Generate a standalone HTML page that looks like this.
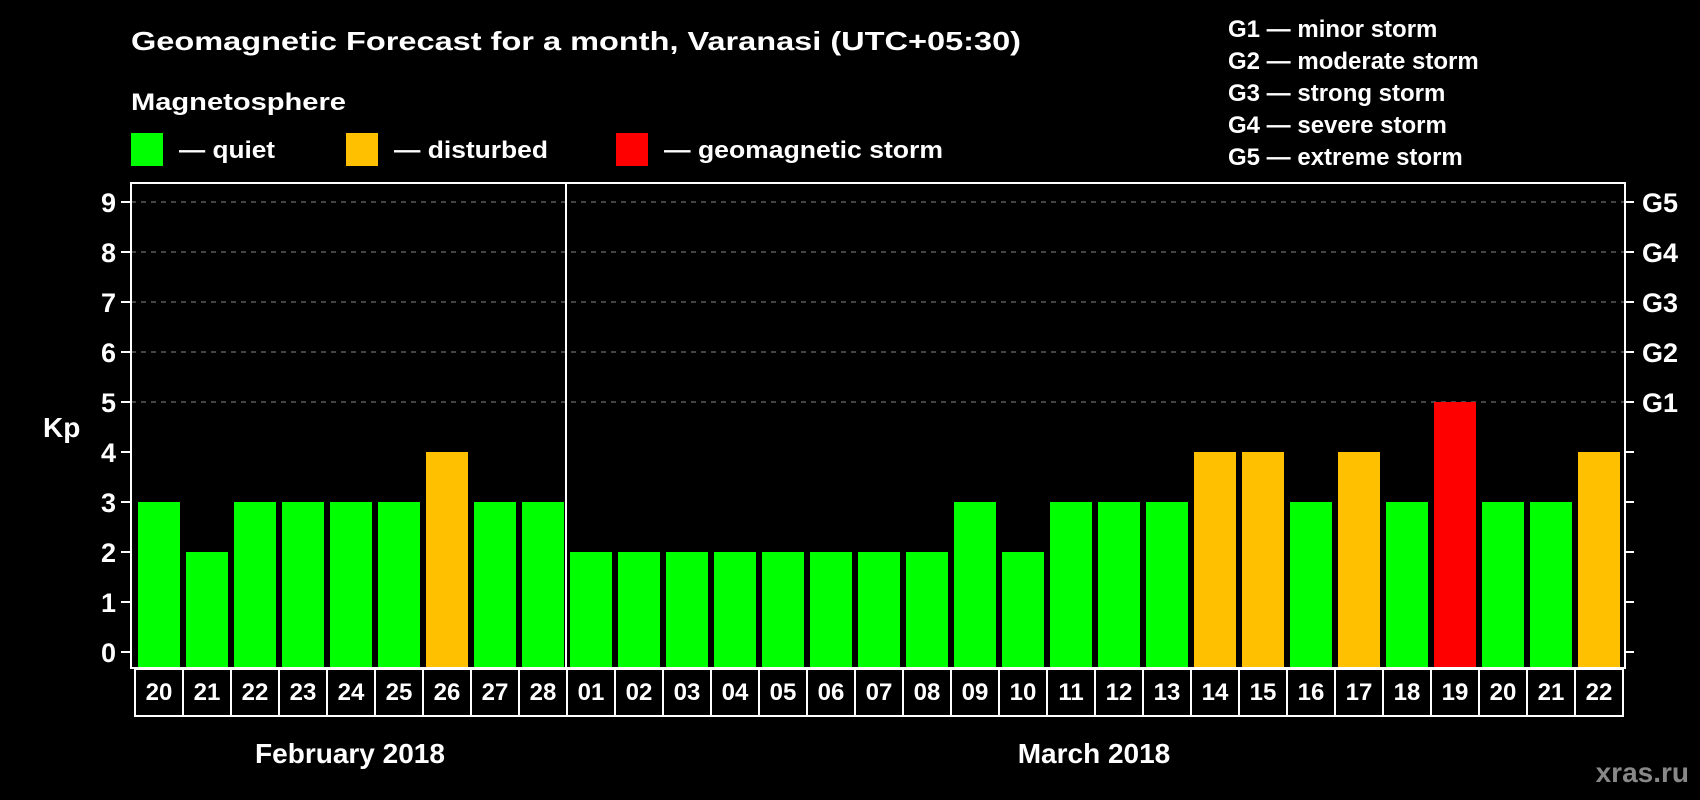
<!DOCTYPE html>
<html><head><meta charset="utf-8"><style>
html,body{margin:0;padding:0;background:#000;width:1700px;height:800px;overflow:hidden}
svg{display:block;font-family:"Liberation Sans",sans-serif;font-weight:bold}
</style></head><body>
<svg id="chart" width="1700" height="800" viewBox="0 0 1700 800" xmlns="http://www.w3.org/2000/svg">
<rect width="1700" height="800" fill="#000"/>
<text x="131" y="50" fill="#fff" font-size="26" textLength="890" lengthAdjust="spacingAndGlyphs">Geomagnetic Forecast for a month, Varanasi (UTC+05:30)</text>
<text x="131" y="110" fill="#fff" font-size="24" textLength="215" lengthAdjust="spacingAndGlyphs">Magnetosphere</text>
<g>
<rect x="131" y="133" width="32" height="33" fill="#00ff00"/>
<text x="179" y="158" fill="#fff" font-size="24" textLength="96" lengthAdjust="spacingAndGlyphs">— quiet</text></g>
<g>
<rect x="346" y="133" width="32" height="33" fill="#ffc000"/>
<text x="394" y="158" fill="#fff" font-size="24" textLength="154" lengthAdjust="spacingAndGlyphs">— disturbed</text></g>
<g>
<rect x="616" y="133" width="32" height="33" fill="#ff0000"/>
<text x="664" y="158" fill="#fff" font-size="24" textLength="279" lengthAdjust="spacingAndGlyphs">— geomagnetic storm</text></g>
<g fill="#fff" font-size="24">
<text x="1228" y="37">G1 — minor storm</text>
<text x="1228" y="69">G2 — moderate storm</text>
<text x="1228" y="101">G3 — strong storm</text>
<text x="1228" y="133">G4 — severe storm</text>
<text x="1228" y="165">G5 — extreme storm</text>
</g>
<text x="43" y="437" fill="#fff" font-size="28">Kp</text>
<g id="grid"></g><g id="bars"></g>
<rect x="131" y="183" width="1494" height="485" fill="none" stroke="#fff" stroke-width="2"/>
<line x1="566" y1="183" x2="566" y2="668" stroke="#fff" stroke-width="2"/>
<g id="axes"></g><g id="days"></g>
<text x="350" y="763" fill="#fff" font-size="28" text-anchor="middle">February 2018</text>
<text x="1094" y="763" fill="#fff" font-size="28" text-anchor="middle">March 2018</text>
<text x="1689" y="782" fill="#888" font-size="28" text-anchor="end">xras.ru</text>
</svg>
<script>
const days = ["20","21","22","23","24","25","26","27","28","01","02","03","04","05","06","07","08","09","10","11","12","13","14","15","16","17","18","19","20","21","22"];
const kpValues = [3,2,3,3,3,3,4,3,3,2,2,2,2,2,2,2,2,3,2,3,3,3,4,4,3,4,3,5,3,3,4];
const yTicks = [0,1,2,3,4,5,6,7,8,9];
const gLabels = ["G1","G2","G3","G4","G5"];
const NS="http://www.w3.org/2000/svg";
const y = v => 652 - v*50;
const x = i => 138 + i*48;
function mk(tag, attrs, parent){const e=document.createElementNS(NS,tag);for(const k in attrs)e.setAttribute(k,attrs[k]);parent.appendChild(e);return e;}
const grid=document.getElementById('grid'),bars=document.getElementById('bars'),axes=document.getElementById('axes'),dayG=document.getElementById('days');
yTicks.forEach(t=>{
  if(t>=5){const g=mk('line',{x1:131,x2:1625,y1:y(t),y2:y(t),stroke:'#888','stroke-dasharray':'5,5','stroke-width':1},grid);
  
  }
  const tl=mk('line',{x1:121,x2:131,y1:y(t),y2:y(t),stroke:'#fff','stroke-width':2},axes);
  
  
  const tr=mk('line',{x1:1625,x2:1634,y1:y(t),y2:y(t),stroke:'#fff','stroke-width':2},axes);
  
  
  const lb=mk('text',{x:116,y:y(t)+10,fill:'#fff','font-size':27,'text-anchor':'end'},axes);
  lb.textContent=t;
  
  
});
gLabels.forEach((g,i)=>{
  const lb=mk('text',{x:1642,y:y(5+i)+10,fill:'#fff','font-size':27},axes);
  lb.textContent=g;
  
  
});
kpValues.forEach((v,i)=>{
  const c=v>=5?'#ff0000':(v>=4?'#ffc000':'#00ff00');
  const b=mk('rect',{x:x(i),y:y(v),width:42,height:668-y(v),fill:c},bars);
  
  
});
mk('rect',{x:135,y:669,width:1488,height:47,fill:'none',stroke:'#fff','stroke-width':2},dayG);
days.forEach((d,i)=>{
  if(i>0){const l=mk('line',{x1:x(i)-3,x2:x(i)-3,y1:669,y2:716,stroke:'#fff','stroke-width':2},dayG);
  
  }
  const t=mk('text',{x:x(i)+21,y:700,fill:'#fff','font-size':24,'text-anchor':'middle'},dayG);
  t.textContent=d;
  
  
});
</script>
</body></html>
